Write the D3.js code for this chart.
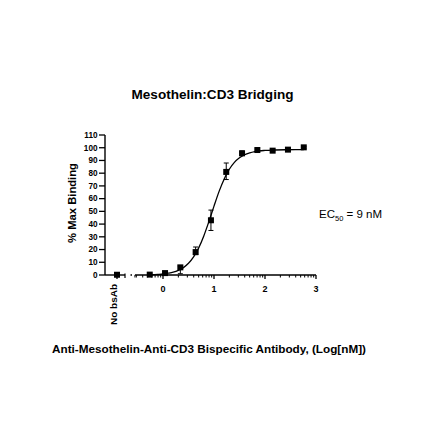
<!DOCTYPE html>
<html><head><meta charset="utf-8">
<script src="https://cdn.jsdelivr.net/npm/d3@7"></script>
<style>body{margin:0;background:#fff}svg{display:block}</style>
</head><body><svg id="c" width="440" height="440" font-family="Liberation Sans, Arial, sans-serif"></svg>
<script>
// ---- data ----
const title = "Mesothelin:CD3 Bridging";
const yLabel = "% Max Binding";
const xLabel = "Anti-Mesothelin-Anti-CD3 Bispecific Antibody, (Log[nM])";
const controlLabel = ["No bsAb"];
const controlValue = [0.2];
const logConc = [-0.26, 0.04, 0.34, 0.64, 0.94, 1.24, 1.55, 1.85, 2.15, 2.45, 2.76];
const binding = [0.3, 1.5, 6, 18, 43, 81, 95.6, 98.2, 97.7, 98.5, 100.3];
const errLow  = [0, 0.5, 1, 16, 35, 75, 94, 97.5, 97, 97.8, 99.5];
const errHigh = [0.8, 2.5, 7, 22, 51, 88, 97.5, 99, 98.5, 99.3, 101];
const fitX = [-0.26,-0.1,0,0.1,0.2,0.3,0.4,0.5,0.6,0.7,0.8,0.9,1.0,1.1,1.2,1.3,1.4,1.5,1.6,1.7,1.8,2.0,2.2,2.4,2.6,2.76];
const fitY = [0.2,0.5,0.8,1.4,2.2,3.6,5.8,9.2,14.2,21.3,30.7,42,54.1,65.7,75.5,83.1,88.5,92.1,94.5,96,97,97.9,98.2,98.4,98.5,98.5];
const yTicks = [0,10,20,30,40,50,60,70,80,90,100,110];
const xTicks = [0,1,2,3];
const ec50Text = {pre:"EC", sub:"50", post:" = 9 nM"};

const svg = d3.select("#c");
const x = d3.scaleLinear().domain([0,3]).range([163,316]);
const xCtl = d3.scalePoint().domain(controlLabel).range([117,117]);
const y = d3.scaleLinear().domain([0,110]).range([275,135]);
const xMin = -0.55, xMax = 3;
const axY = y(0);
const yAxX = 105;

// title
svg.append("text").attr("x",212.5).attr("y",99).attr("text-anchor","middle")
  .attr("font-size",13).attr("font-weight","bold")
  .attr("textLength",162).attr("lengthAdjust","spacingAndGlyphs").text(title);

// y axis
svg.append("line").attr("x1",yAxX).attr("x2",yAxX).attr("y1",y(110)).attr("y2",y(0)).attr("stroke","#000").attr("stroke-width",1.4);
const yt = svg.append("g").selectAll("g").data(yTicks).join("g");
yt.append("line").attr("x1",yAxX-6).attr("x2",yAxX).attr("y1",d=>y(d)).attr("y2",d=>y(d)).attr("stroke","#000").attr("stroke-width",1.3);
yt.append("text").attr("x",yAxX-7.5).attr("y",d=>y(d)+2.8).attr("text-anchor","end")
  .attr("font-size",8.2).attr("font-weight","bold").text(d=>d);

svg.append("text").attr("x",75.5).attr("y",203).attr("transform","rotate(-90,75.5,203)").attr("text-anchor","middle")
  .attr("font-size",11).attr("font-weight","bold")
  .attr("textLength",80).attr("lengthAdjust","spacingAndGlyphs").text(yLabel);

// x axis: control segment
svg.append("line").attr("x1",yAxX).attr("x2",125).attr("y1",axY).attr("y2",axY).attr("stroke","#000").attr("stroke-width",1.4);
svg.append("line").attr("x1",xCtl(controlLabel[0])).attr("x2",xCtl(controlLabel[0])).attr("y1",axY).attr("y2",axY+4).attr("stroke","#000").attr("stroke-width",1.3);
svg.append("line").attr("x1",125).attr("x2",125).attr("y1",axY-1.5).attr("y2",axY+3).attr("stroke","#000").attr("stroke-width",1.2);
svg.append("line").attr("x1",130.5).attr("x2",132).attr("y1",axY).attr("y2",axY).attr("stroke","#000").attr("stroke-width",1.4);
const cx0 = xCtl(controlLabel[0])-0.5;
svg.append("text").attr("x",cx0).attr("y",284).attr("transform",`rotate(-90,${cx0},284)`).attr("text-anchor","end")
  .attr("font-size",9.5).attr("font-weight","bold")
  .attr("textLength",41).attr("lengthAdjust","spacingAndGlyphs").text(controlLabel[0]);

// main x segment
svg.append("line").attr("x1",x(xMin)).attr("x2",x(xMax)).attr("y1",axY).attr("y2",axY).attr("stroke","#000").attr("stroke-width",1.4);
const xt = svg.append("g").selectAll("g").data(xTicks).join("g");
xt.append("line").attr("x1",d=>x(d)).attr("x2",d=>x(d)).attr("y1",axY).attr("y2",axY+4).attr("stroke","#000").attr("stroke-width",1.3);
xt.append("text").attr("x",d=>x(d)).attr("y",axY+17).attr("text-anchor","middle")
  .attr("font-size",9).attr("font-weight","bold").text(d=>d);
const minor = [];
for (let d=-1; d<3; d++) for (let k=2;k<=9;k++){ const v=d+Math.log10(k); if(v>=xMin && v<=xMax) minor.push(v); }
minor.push(xMin);
svg.append("g").selectAll("line").data(minor).join("line")
  .attr("x1",d=>x(d)).attr("x2",d=>x(d)).attr("y1",axY).attr("y2",axY+2.5).attr("stroke","#000").attr("stroke-width",1);

svg.append("text").attr("x",209).attr("y",353).attr("text-anchor","middle")
  .attr("font-size",10).attr("font-weight","bold")
  .attr("textLength",314).attr("lengthAdjust","spacingAndGlyphs").text(xLabel);

// fit curve
svg.append("path").datum(fitX.map((v,i)=>[v,fitY[i]]))
  .attr("d", d3.line().x(d=>x(d[0])).y(d=>y(d[1])).curve(d3.curveMonotoneX))
  .attr("fill","none").attr("stroke","#000").attr("stroke-width",1.3);

// error bars
const eb = svg.append("g").attr("stroke","#000").attr("stroke-width",1);
logConc.forEach((v,i)=>{
  const cx=x(v);
  eb.append("line").attr("x1",cx).attr("x2",cx).attr("y1",y(errLow[i])).attr("y2",y(errHigh[i]));
  eb.append("line").attr("x1",cx-2.5).attr("x2",cx+2.5).attr("y1",y(errLow[i])).attr("y2",y(errLow[i]));
  eb.append("line").attr("x1",cx-2.5).attr("x2",cx+2.5).attr("y1",y(errHigh[i])).attr("y2",y(errHigh[i]));
});

// markers
const s=6;
svg.append("g").selectAll("rect").data(logConc).join("rect")
  .attr("x",(d)=>x(d)-s/2).attr("y",(d,i)=>y(binding[i])-s/2).attr("width",s).attr("height",s).attr("fill","#000");
svg.append("g").selectAll("rect").data(controlValue).join("rect")
  .attr("x",xCtl(controlLabel[0])-s/2).attr("y",d=>y(d)-s/2).attr("width",s).attr("height",s).attr("fill","#000");

// EC50 annotation
const ec = svg.append("text").attr("x",319).attr("y",218).attr("font-size",11.5);
ec.append("tspan").text(ec50Text.pre);
ec.append("tspan").attr("dy",2.5).attr("font-size",7.5).text(ec50Text.sub);
ec.append("tspan").attr("dy",-2.5).text(ec50Text.post);
</script></body></html>
